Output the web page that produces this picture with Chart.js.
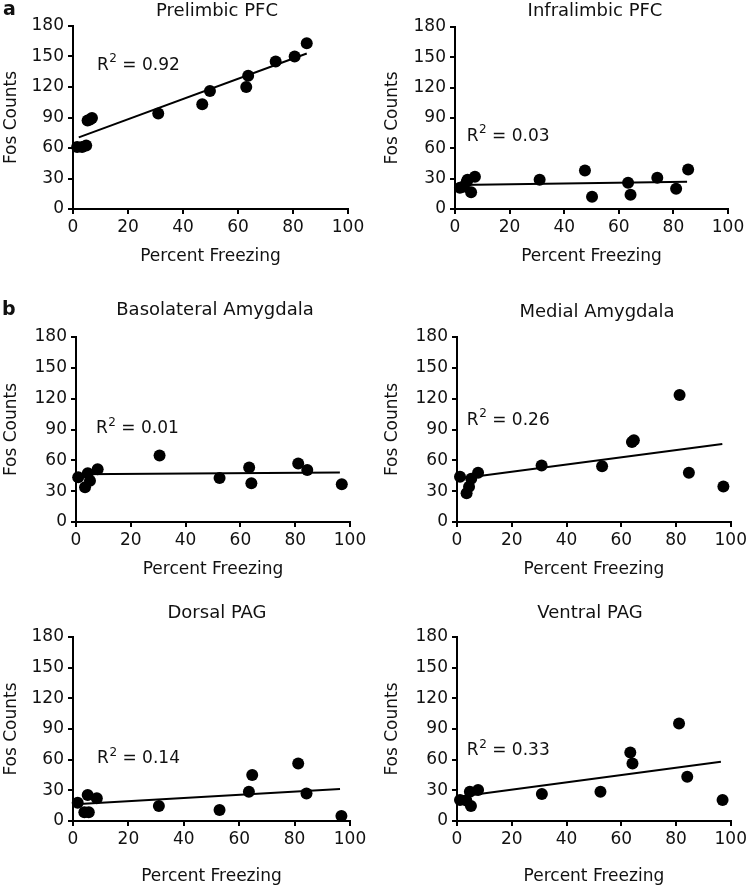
<!DOCTYPE html>
<html>
<head>
<meta charset="utf-8">
<script src="https://cdn.jsdelivr.net/npm/chart.js@4.4.1/dist/chart.umd.min.js"></script>
<style>
  html, body { margin: 0; padding: 0; background: #fff; }
  #fig { position: relative; width: 750px; height: 887px; }
  .panel { position: absolute; }
</style>
</head>
<body>
<div id="fig"></div>
<script>
// tick values shared by all panels
const xTickValues = [0, 20, 40, 60, 80, 100];
const yTickValues = [0, 30, 60, 90, 120, 150, 180];

// Prelimbic PFC
const prelimbicX = [1.5, 3.3, 4.8, 5.3, 6.2, 6.9, 31, 47, 49.8, 63, 63.7, 73.7, 80.6, 85];
const prelimbicY = [61, 61, 62.4, 87, 88, 89.5, 94, 103, 116, 120, 131, 145, 150, 163];
const prelimbicFitX = [2.1, 85];
const prelimbicFitY = [70.5, 153];

// Infralimbic PFC
const infralimbicX = [1.8, 3, 4.3, 4.6, 5.9, 7.3, 31, 47.6, 50.2, 63.4, 64.3, 74.1, 81, 85.4];
const infralimbicY = [21, 22, 27, 29, 16.5, 32, 29, 38, 12, 26, 14, 31, 20, 39];
const infralimbicFitX = [1.2, 85];
const infralimbicFitY = [23.7, 27];

// Basolateral Amygdala
const basolateralX = [0.8, 3.3, 4.3, 5.1, 7.9, 30.5, 52.4, 63.2, 64, 81.1, 84.4, 97];
const basolateralY = [43.5, 33.8, 47.4, 40.2, 51.3, 64.6, 42.7, 53, 37.8, 57, 50.7, 36.8];
const basolateralFitX = [0.2, 96.3];
const basolateralFitY = [46.5, 48.1];

// Medial Amygdala
const medialX = [1.1, 3.5, 4.4, 5.2, 7.7, 30.9, 53, 63.9, 64.6, 81.3, 84.7, 97.3];
const medialY = [44, 27.9, 34.3, 42, 48, 55, 54.3, 77.9, 79.5, 123.5, 48, 34.6];
const medialFitX = [0.6, 96.9];
const medialFitY = [42, 76];

// Dorsal PAG
const dorsalX = [1.7, 4.1, 5.3, 5.7, 8.6, 31, 52.9, 63.5, 64.7, 81.3, 84.3, 96.9];
const dorsalY = [17.9, 8.5, 25.4, 8.5, 22.2, 14.6, 10.7, 28.6, 45, 56.3, 27, 4.9];
const dorsalFitX = [0.8, 96.4];
const dorsalFitY = [16.3, 31.3];

// Ventral PAG
const ventralX = [1.1, 3.4, 4.7, 5.1, 7.7, 31, 52.4, 63.3, 64.1, 81.1, 84.1, 97];
const ventralY = [20.5, 20, 28.7, 14.7, 30.3, 26.4, 28.6, 67, 56.3, 95.4, 43.3, 20.5];
const ventralFitX = [0.6, 96.4];
const ventralFitY = [23.8, 58];

const ink = '#111';
const family = '"DejaVu Sans", sans-serif';
const fontSize = 17;
const halfLine = fontSize * 1.2 / 2;
Chart.defaults.font.family = family;
Chart.defaults.font.size = fontSize;
Chart.defaults.color = ink;

// box = container on the page, plot = chart area on the page (l, t, r, b)
const panels = [
  { name: 'Prelimbic PFC', r2: '0.92', x: prelimbicX, y: prelimbicY, fitX: prelimbicFitX, fitY: prelimbicFitY,
    box: [0, 0, 375, 290], plot: [73, 26, 348, 209], title: [217, 11], labelAt: [8.7, 141.5],
    letter: 'a', letterAt: [3, 10], yTitleX: 12, xTitleY: 257 },
  { name: 'Infralimbic PFC', r2: '0.03', x: infralimbicX, y: infralimbicY, fitX: infralimbicFitX, fitY: infralimbicFitY,
    box: [375, 0, 375, 290], plot: [455, 27, 728, 209], title: [595, 11], labelAt: [4.3, 72],
    yTitleX: 393, xTitleY: 257 },
  { name: 'Basolateral Amygdala', r2: '0.01', x: basolateralX, y: basolateralY, fitX: basolateralFitX, fitY: basolateralFitY,
    box: [0, 290, 375, 300], plot: [76, 337, 350, 522], title: [215, 310], labelAt: [7.3, 91],
    letter: 'b', letterAt: [2, 310], yTitleX: 12, xTitleY: 570 },
  { name: 'Medial Amygdala', r2: '0.26', x: medialX, y: medialY, fitX: medialFitX, fitY: medialFitY,
    box: [375, 290, 375, 300], plot: [457, 337, 732, 522], title: [597, 312], labelAt: [3.6, 99],
    yTitleX: 393, xTitleY: 570 },
  { name: 'Dorsal PAG', r2: '0.14', x: dorsalX, y: dorsalY, fitX: dorsalFitX, fitY: dorsalFitY,
    box: [0, 590, 375, 297], plot: [73, 637, 350, 821], title: [217, 613], labelAt: [8.7, 61],
    yTitleX: 12, xTitleY: 877 },
  { name: 'Ventral PAG', r2: '0.33', x: ventralX, y: ventralY, fitX: ventralFitX, fitY: ventralFitY,
    box: [375, 590, 375, 297], plot: [457, 637, 733, 821], title: [590, 613], labelAt: [3.6, 69],
    yTitleX: 393, xTitleY: 877 }
];

// panel title, R² note and panel letter
const panelText = {
  id: 'panelText',
  afterDraw(chart, args, opts) {
    const p = opts.panel;
    const [bx, by] = p.box;
    const ctx = chart.ctx;
    ctx.save();
    ctx.fillStyle = ink;
    ctx.textBaseline = 'middle';

    ctx.font = '18px ' + family;
    ctx.textAlign = 'center';
    ctx.fillText(p.name, p.title[0] - bx, p.title[1] - by);

    ctx.textAlign = 'left';
    let tx = chart.scales.x.getPixelForValue(p.labelAt[0]);
    const ty = chart.scales.y.getPixelForValue(p.labelAt[1]);
    ctx.font = '17px ' + family;
    ctx.fillText('R', tx, ty);
    tx += ctx.measureText('R').width + 0.5;
    ctx.font = '12px ' + family;
    ctx.fillText('2', tx, ty - 6);
    tx += ctx.measureText('2').width;
    ctx.font = '17px ' + family;
    ctx.fillText(' = ' + p.r2, tx, ty);

    if (p.letter) {
      ctx.font = 'bold 19px ' + family;
      ctx.fillText(p.letter, p.letterAt[0] - bx, p.letterAt[1] - by);
    }
    ctx.restore();
  }
};

const axisStyle = {
  grid: { display: true, drawOnChartArea: false, drawTicks: true, tickLength: 5, color: '#000', lineWidth: 2 },
  border: { display: true, color: '#000', width: 2 }
};

const fig = document.getElementById('fig');

panels.forEach(p => {
  const [bx, by, bw, bh] = p.box;
  const [pl, pt, pr, pb] = p.plot;
  const div = document.createElement('div');
  div.className = 'panel';
  div.style.left = bx + 'px';
  div.style.top = by + 'px';
  div.style.width = bw + 'px';
  div.style.height = bh + 'px';
  const canvas = document.createElement('canvas');
  canvas.width = bw;
  canvas.height = bh;
  div.appendChild(canvas);
  fig.appendChild(div);

  new Chart(canvas, {
    type: 'scatter',
    data: {
      datasets: [
        {
          data: p.x.map((v, i) => ({ x: v, y: p.y[i] })),
          pointRadius: 6,
          pointBackgroundColor: '#000',
          pointBorderWidth: 0,
          showLine: false,
          clip: false
        },
        {
          data: p.fitX.map((v, i) => ({ x: v, y: p.fitY[i] })),
          showLine: true,
          pointRadius: 0,
          borderColor: '#000',
          borderWidth: 2,
          clip: false
        }
      ]
    },
    options: {
      responsive: false,
      animation: false,
      events: [],
      layout: { padding: { left: 0, top: pt - by, right: bx + bw - pr, bottom: 0 } },
      scales: {
        x: {
          type: 'linear',
          min: 0,
          max: 100,
          afterBuildTicks: s => { s.ticks = xTickValues.map(v => ({ value: v })); },
          afterFit: s => { s.height = by + bh - pb; },
          ticks: { padding: 3, color: ink },
          title: { display: true, text: 'Percent Freezing', color: ink, padding: { top: 0, bottom: (by + bh - p.xTitleY) - halfLine } },
          ...axisStyle
        },
        y: {
          type: 'linear',
          min: 0,
          max: 180,
          afterBuildTicks: s => { s.ticks = yTickValues.map(v => ({ value: v })); },
          afterFit: s => { s.width = pl - bx; },
          ticks: { padding: 4, color: ink },
          title: { display: true, text: 'Fos Counts', color: ink, padding: { top: (p.yTitleX - bx) - halfLine, bottom: 0 } },
          ...axisStyle
        }
      },
      plugins: {
        legend: { display: false },
        tooltip: { enabled: false },
        panelText: { panel: p }
      }
    },
    plugins: [panelText]
  });
});
</script>
</body>
</html>
